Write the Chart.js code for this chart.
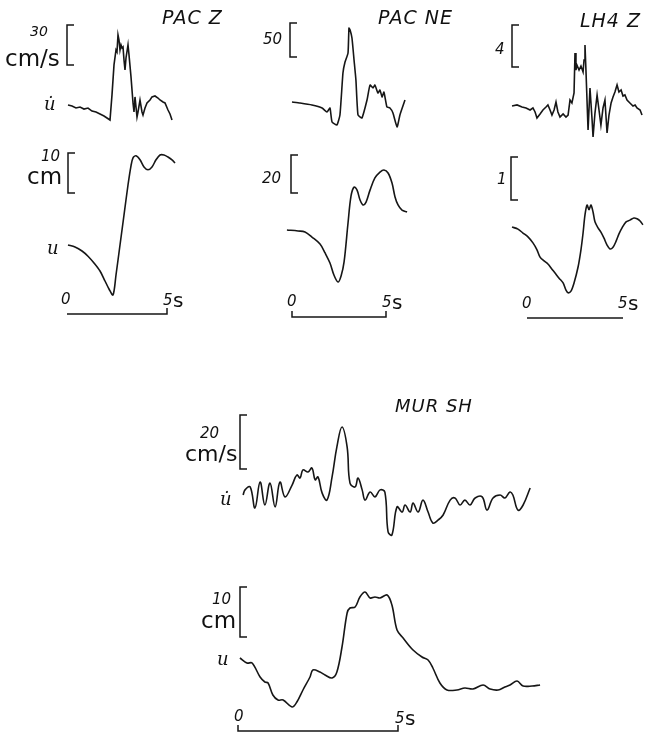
<!DOCTYPE html>
<html>
<head>
<meta charset="utf-8">
<script src="https://cdn.jsdelivr.net/npm/chart.js@4"></script>
<style>
  html, body { margin: 0; padding: 0; background: #fff; }
  #wrap { position: absolute; left: 0; top: 0; width: 646px; height: 733px; }
  .lbl { position: absolute; white-space: pre; line-height: 1; color: #111; }
</style>
</head>
<body>
<div id="wrap"><canvas id="seis"></canvas></div>
<script>
// ── Trace data: time in s, velocity in cm/s, displacement in cm ─────

// PAC Z
const tPacZVel  = [0.05,0.25,0.45,0.65,0.85,1.05,1.25,1.45,1.65,1.85,2.0,2.15,2.25,2.35,2.45,2.5,2.55,2.6,2.65,2.7,2.75,2.8,2.85,2.9,2.95,3.05,3.1,3.2,3.3,3.35,3.4,3.5,3.55,3.65,3.75,3.8,3.9,4.0,4.15,4.25,4.4,4.55,4.65,4.8,4.9,5.05,5.15,5.25];
const pacZVel   = [-0.8,-1.5,-3,-2.3,-3.8,-3,-5.3,-6,-7.5,-9,-10.5,-12,6.8,29.3,40.5,39,51.8,48,40.5,44.3,42,42.8,33,25.5,34.5,44.3,36.8,20.3,0.8,-6,5.3,-9.8,-6,3,-6,-8.3,-3,0.8,3,5.3,6,4.5,3,1.5,0.8,-4.5,-7.5,-12];
const tPacZDisp = [0.05,0.4,0.75,1.05,1.35,1.65,1.9,2.1,2.3,2.45,2.65,2.85,3.05,3.2,3.3,3.45,3.65,3.85,4.05,4.25,4.45,4.65,4.85,5.05,5.25,5.4];
const pacZDisp  = [0,-0.5,-1.5,-2.8,-4.5,-6.5,-9,-11,-12.5,-7.5,0,7.5,15,19.8,21.8,22.3,21.3,19.5,18.8,19.5,21.3,22.5,22.5,22,21.3,20.5];

// PAC NE
const tPacNeVel  = [0,0.43,1.06,1.6,1.86,2.02,2.13,2.39,2.55,2.71,2.82,2.98,3.03,3.09,3.19,3.3,3.4,3.51,3.72,3.99,4.15,4.31,4.41,4.57,4.68,4.79,4.89,5.05,5.21,5.37,5.59,5.74,6.01];
const pacNeVel   = [0,-1.5,-4.4,-8.8,-14.7,-8.8,-29.4,-33.8,-19.1,42.6,58.8,72.1,108.8,105.9,94.1,61.8,32.4,-19.1,-23.5,2.9,25,20.6,25,13.2,17.6,7.4,14.7,-7.4,-8.8,-16.2,-36.8,-19.1,2.9];
const tPacNeDisp = [-0.27,0.32,0.69,1.06,1.49,1.76,2.02,2.23,2.45,2.61,2.77,2.98,3.14,3.3,3.46,3.62,3.78,3.94,4.15,4.41,4.68,4.89,5.11,5.32,5.48,5.64,5.85,6.12];
const pacNeDisp  = [0,-0.5,-1,-3.7,-7.4,-12.1,-17.4,-23.7,-27.4,-24.2,-16.8,3.7,17.9,22.6,21,15.8,13.2,14.7,21,27.4,30.5,31.6,30,24.7,17.4,13.2,10.5,9.5];

// LH4 Z
const tLh4Vel  = [-0.78,-0.52,-0.26,-0.05,0.16,0.31,0.42,0.52,0.68,0.83,0.99,1.09,1.2,1.3,1.41,1.51,1.61,1.72,1.88,2.03,2.14,2.24,2.34,2.45,2.5,2.55,2.6,2.71,2.81,2.92,2.97,3.02,3.07,3.18,3.28,3.39,3.44,3.54,3.65,3.75,3.85,3.96,4.06,4.11,4.17,4.27,4.38,4.48,4.58,4.69,4.79,4.9,5.0,5.1,5.21,5.36,5.52,5.63,5.73,5.89,5.99];
const lh4Vel   = [0,0.1,-0.1,-0.19,-0.38,-0.19,-0.57,-1.14,-0.76,-0.38,-0.1,0.1,-0.38,-0.86,-0.38,0.38,-0.57,-1.05,-0.76,-1.05,-0.86,0.57,0.29,1.24,5.05,3.43,3.9,3.43,3.81,3.24,4.38,5.81,3.43,-2.29,1.71,-1.33,-2.95,-0.67,1.05,-0.38,-1.81,-0.19,0.57,-0.86,-2.57,-0.86,0.29,0.86,1.33,2,1.33,1.52,0.95,1.05,0.57,0.29,0,0.1,-0.19,-0.38,-0.86];
const tLh4Disp = [-0.78,-0.47,-0.21,0.05,0.31,0.52,0.68,0.89,1.09,1.3,1.46,1.67,1.88,2.03,2.14,2.29,2.45,2.66,2.81,2.92,3.02,3.13,3.23,3.33,3.44,3.54,3.7,3.85,4.01,4.17,4.32,4.48,4.64,4.79,4.95,5.16,5.36,5.57,5.73,5.89,6.04];
const lh4Disp  = [0,-0.05,-0.14,-0.23,-0.37,-0.53,-0.7,-0.79,-0.86,-0.98,-1.07,-1.19,-1.3,-1.47,-1.53,-1.49,-1.3,-0.93,-0.53,-0.14,0.28,0.51,0.4,0.51,0.35,0.12,-0.02,-0.12,-0.26,-0.42,-0.51,-0.47,-0.33,-0.16,-0.02,0.12,0.16,0.21,0.19,0.14,0.05];

// MUR SH
const tMurVel  = [0.16,0.22,0.38,0.53,0.69,0.84,1,1.16,1.31,1.47,1.69,1.84,1.94,2.03,2.19,2.31,2.41,2.5,2.63,2.78,2.94,3.09,3.25,3.41,3.5,3.66,3.75,3.88,3.97,4.13,4.28,4.44,4.59,4.69,4.81,4.97,5.13,5.22,5.38,5.47,5.63,5.78,5.94,6.09,6.25,6.41,6.63,6.78,6.94,7.09,7.25,7.41,7.63,7.78,7.97,8.19,8.34,8.5,8.59,8.75,8.91,9.13];
const murVel   = [0,1.9,3,-4.8,4.8,-3.7,4.4,-4.4,4.8,-0.7,3.7,7.4,6.3,9.3,8.5,10,5.6,6.7,0.7,-1.9,6.7,17.8,25.2,17.8,4.4,3,6.3,1.9,-1.9,1.1,-0.7,1.9,1.1,-13.7,-14.8,-4.4,-6.3,-3.7,-6.3,-3,-6.3,-1.9,-6.3,-10.4,-9.3,-7.4,-1.9,-1.1,-3.7,-1.9,-3.7,-1.1,-0.7,-5.6,-1.1,0,-1.1,1.1,0,-5.6,-3.7,2.6];
const tMurDisp = [0.06,0.28,0.44,0.69,0.84,0.94,1.09,1.25,1.41,1.69,1.84,2.03,2.25,2.34,2.56,2.72,2.94,3.09,3.25,3.41,3.5,3.66,3.81,3.97,4.13,4.28,4.44,4.66,4.81,4.97,5.16,5.47,5.75,5.94,6.09,6.31,6.53,6.84,7.09,7.34,7.66,7.88,8.13,8.34,8.5,8.72,8.91,9.19,9.44];
const murDisp  = [0,-1,-1,-3.8,-4.8,-5,-7.4,-8.4,-8.4,-9.8,-8.8,-6.4,-3.8,-2.4,-2.8,-3.4,-4,-2.8,2.2,9,10,10.2,12.2,13.2,12,12.2,12,12.6,10.6,5.6,4,1.6,0.2,-0.4,-2,-5,-6.4,-6.4,-6,-6.2,-5.4,-6.2,-6.4,-5.8,-5.4,-4.6,-5.6,-5.6,-5.4];

// Scale bar sizes and time bar length
const timeBarEnds = [0, 5];

// ── Page layout (pixels) ────────────────────────────────────────────
const W = 646, H = 733;

// time axes: x of t=0 and pixels per second
const panels = [
    { id: 'xPZ', x0: 67,  pps: 20 },
    { id: 'xPN', x0: 292, pps: 18.8 },
    { id: 'xLH', x0: 527, pps: 19.2 },
    { id: 'xMR', x0: 238, pps: 32 },
];

// amplitude axes: y of zero level and pixels per unit
const traces = [
    { id: 'yPZv', xId: 'xPZ', yb: 104, ppu: 40 / 30, t: tPacZVel,   v: pacZVel,   tension: 0 },
    { id: 'yPZd', xId: 'xPZ', yb: 245, ppu: 4,       t: tPacZDisp,  v: pacZDisp,  tension: 0.3 },
    { id: 'yPNv', xId: 'xPN', yb: 102, ppu: 0.68,    t: tPacNeVel,  v: pacNeVel,  tension: 0.15 },
    { id: 'yPNd', xId: 'xPN', yb: 230, ppu: 1.9,     t: tPacNeDisp, v: pacNeDisp, tension: 0.35 },
    { id: 'yLHv', xId: 'xLH', yb: 106, ppu: 10.5,    t: tLh4Vel,    v: lh4Vel,    tension: 0 },
    { id: 'yLHd', xId: 'xLH', yb: 227, ppu: 43,      t: tLh4Disp,   v: lh4Disp,   tension: 0.3 },
    { id: 'yMRv', xId: 'xMR', yb: 495, ppu: 2.7,     t: tMurVel,    v: murVel,    tension: 0.4 },
    { id: 'yMRd', xId: 'xMR', yb: 658, ppu: 5,       t: tMurDisp,   v: murDisp,   tension: 0.35 },
];

// amplitude brackets "[" : value taken through the y scale
const brackets = [
    { yId: 'yPZv', value: 30, x: 67,  top: 25 },
    { yId: 'yPZd', value: 10, x: 68,  top: 153 },
    { yId: 'yPNv', value: 50, x: 290, top: 23 },
    { yId: 'yPNd', value: 20, x: 291, top: 155 },
    { yId: 'yLHv', value: 4,  x: 512, top: 25 },
    { yId: 'yLHd', value: 1,  x: 511, top: 157 },
    { yId: 'yMRv', value: 20, x: 240, top: 415 },
    { yId: 'yMRd', value: 10, x: 240, top: 587 },
];

// time bars under each panel
const timeBars = [
    { xId: 'xPZ', y: 314, tickL: 0, tickR: 6 },
    { xId: 'xPN', y: 317, tickL: 6, tickR: 6 },
    { xId: 'xLH', y: 318, tickL: 0, tickR: 0 },
    { xId: 'xMR', y: 731, tickL: 6, tickR: 6 },
];

const INK = '#161616';
const ITAL = 'italic 400 {s}px "DejaVu Sans"';
const UNIT = '400 {s}px "DejaVu Sans"';
const SYM  = 'italic 400 {s}px "DejaVu Serif"';

// text labels: left x, baseline y, size, font
const labels = [
    ['PAC Z',  162, 22, 19, ITAL], ['PAC NE', 378, 22, 19, ITAL], ['LH4 Z', 580, 25, 19, ITAL],
    ['MUR SH', 395, 410, 18, ITAL],
    ['30', 30, 35, 14, ITAL], ['cm/s', 5, 65, 23, UNIT], ['u\u0307', 44, 108, 18, SYM],
    ['10', 41, 160, 15, ITAL], ['cm', 27, 183, 23, UNIT], ['u', 47, 252, 18, SYM],
    ['0', 61, 303, 15, ITAL], ['5', 163, 304, 15, ITAL], ['s', 173, 305, 20, UNIT],
    ['50', 263, 43, 15, ITAL], ['20', 262, 182, 15, ITAL],
    ['0', 287, 305, 15, ITAL], ['5', 382, 306, 15, ITAL], ['s', 392, 307, 20, UNIT],
    ['4', 495, 53, 15, ITAL], ['1', 497, 183, 15, ITAL],
    ['0', 522, 307, 15, ITAL], ['5', 618, 307, 15, ITAL], ['s', 628, 308, 20, UNIT],
    ['20', 200, 437, 15, ITAL], ['cm/s', 185, 460, 22, UNIT], ['u\u0307', 220, 503, 18, SYM],
    ['10', 212, 603, 15, ITAL], ['cm', 201, 627, 23, UNIT], ['u', 217, 663, 18, SYM],
    ['0', 234, 720, 15, ITAL], ['5', 395, 722, 15, ITAL], ['s', 405, 723, 20, UNIT],
];

const wrap = document.getElementById('wrap');
labels.forEach(([text, x, base, size, font]) => {
    const el = document.createElement('div');
    el.className = 'lbl';
    el.textContent = text;
    el.style.font = font.replace('{s}', size);
    el.style.left = x + 'px';
    el.style.top = (base - size * 0.85) + 'px';
    if (font === ITAL && text.length > 2) el.style.letterSpacing = '1px';
    wrap.appendChild(el);
});

// ── Scales: hidden axes sized so the pixel mapping matches the page ──
const scales = {};
panels.forEach(p => {
    scales[p.id] = { type: 'linear', display: false, min: -p.x0 / p.pps, max: (W - p.x0) / p.pps };
});
traces.forEach(tr => {
    const max = tr.yb / tr.ppu;
    scales[tr.id] = { type: 'linear', display: false, min: max - H / tr.ppu, max: max };
});

// ── Plugin: amplitude brackets and time bars ─────────────────────────
const scaleBars = {
    id: 'scaleBars',
    afterDatasetsDraw(chart) {
        const ctx = chart.ctx;
        ctx.save();
        ctx.strokeStyle = INK;
        ctx.lineWidth = 1.5;
        brackets.forEach(b => {
            const sc = chart.scales[b.yId];
            const len = Math.abs(sc.getPixelForValue(0) - sc.getPixelForValue(b.value));
            ctx.beginPath();
            ctx.moveTo(b.x + 7, b.top);
            ctx.lineTo(b.x, b.top);
            ctx.lineTo(b.x, b.top + len);
            ctx.lineTo(b.x + 7, b.top + len);
            ctx.stroke();
        });
        timeBars.forEach(tb => {
            const sc = chart.scales[tb.xId];
            const a = sc.getPixelForValue(timeBarEnds[0]);
            const c = sc.getPixelForValue(timeBarEnds[1]);
            ctx.beginPath();
            ctx.moveTo(a, tb.y - tb.tickL);
            ctx.lineTo(a, tb.y);
            ctx.lineTo(c, tb.y);
            ctx.lineTo(c, tb.y - tb.tickR);
            ctx.stroke();
        });
        ctx.restore();
    }
};

new Chart(document.getElementById('seis'), {
    type: 'line',
    data: {
        datasets: traces.map(tr => ({
            data: tr.t.map((t, i) => ({ x: t, y: tr.v[i] })),
            xAxisID: tr.xId,
            yAxisID: tr.id,
            borderColor: INK,
            borderWidth: 1.6,
            pointRadius: 0,
            tension: tr.tension,
            fill: false,
            clip: false,
        }))
    },
    options: {
        responsive: true,
        maintainAspectRatio: false,
        animation: false,
        layout: { padding: 0 },
        plugins: { legend: { display: false }, tooltip: { enabled: false } },
        scales: scales
    },
    plugins: [scaleBars]
});
</script>
</body>
</html>
